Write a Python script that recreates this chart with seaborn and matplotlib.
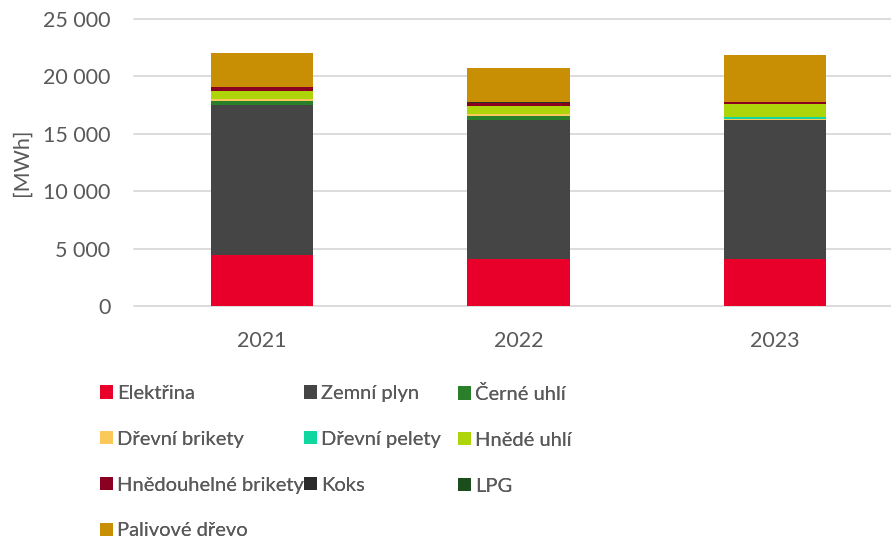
import numpy as np
import pandas as pd
import matplotlib
matplotlib.use('Agg')
import matplotlib.pyplot as plt
import seaborn as sns
from matplotlib.patches import Patch
from matplotlib.ticker import FuncFormatter

# Data (MWh)
roky = ['2021', '2022', '2023']
elektrina = [4450, 4100, 4100]
zemni_plyn = [13030, 12070, 12070]
cerne_uhli = [350, 350, 20]
drevni_brikety = [170, 170, 90]
drevni_pelety = [20, 20, 170]
hnede_uhli = [700, 700, 1130]
hnedouhelne_brikety = [320, 290, 170]
koks = [30, 20, 10]
lpg = [10, 10, 10]
palivove_drevo = [2960, 2950, 4060]

nazvy = ['Elektřina', 'Zemní plyn', 'Černé uhlí', 'Dřevní brikety', 'Dřevní pelety',
         'Hnědé uhlí', 'Hnědouhelné brikety', 'Koks', 'LPG', 'Palivové dřevo']
barvy = ['#E8002A', '#454545', '#2A7F2A', '#FBC95A', '#10D7A0',
         '#ADD50A', '#8A0020', '#2A2A2A', '#1C4D1C', '#C88F05']
serie = [elektrina, zemni_plyn, cerne_uhli, drevni_brikety, drevni_pelety,
         hnede_uhli, hnedouhelne_brikety, koks, lpg, palivove_drevo]

df = pd.DataFrame(dict(zip(nazvy, serie)), index=roky)
kum = df.cumsum(axis=1)

sns.set_style('white')
plt.rcParams['font.family'] = ['Lato', 'DejaVu Sans']
seda = '#595959'

fig = plt.figure(figsize=(8.91, 5.4), dpi=100)
ax = fig.add_axes([134 / 891, 1 - 306 / 540, 769 / 891, (306 - 18.7) / 540])

# stacked bars: draw cumulative totals from top down
for nazev, barva in reversed(list(zip(nazvy, barvy))):
    sns.barplot(x=roky, y=kum[nazev].values, color=barva, saturation=1,
                width=0.4, linewidth=0, edgecolor='none', ax=ax, zorder=3)

ax.set_ylim(0, 25000)
ax.set_yticks(np.arange(0, 25001, 5000))
ax.yaxis.set_major_formatter(FuncFormatter(lambda v, p: f'{int(v):,}'.replace(',', ' ')))
ax.grid(axis='y', color='#D9D9D9', linewidth=1.3)
for gl in ax.get_ygridlines():
    gl.set_clip_on(False)
for s in ax.spines.values():
    s.set_visible(False)
ax.tick_params(axis='both', length=0, labelsize=15.5, colors=seda)
ax.tick_params(axis='y', pad=17)
ax.tick_params(axis='x', pad=18)
ax.set_ylabel('[MWh]', fontsize=15.5, color=seda)
ax.yaxis.set_label_coords(-0.133, 0.5)
ax.set_xlabel('')

# legend: three columns placed separately
sloupce = [[0, 3, 6, 9], [1, 4, 7], [2, 5, 8]]
x_pozice = [100, 304, 458]
for idx, xp in zip(sloupce, x_pozice):
    handles = [Patch(facecolor=barvy[i], edgecolor='none') for i in idx]
    labels = [nazvy[i] for i in idx]
    leg = fig.legend(handles, labels, loc='upper left',
                     bbox_to_anchor=(xp / 891, 1 - 385 / 540), frameon=False,
                     fontsize=14.5, labelcolor=seda, handlelength=0.65,
                     handleheight=0.65, handletextpad=0.2, labelspacing=1.43,
                     borderaxespad=0, borderpad=0)
    fig.add_artist(leg)

fig.savefig('out.png', dpi=100)
